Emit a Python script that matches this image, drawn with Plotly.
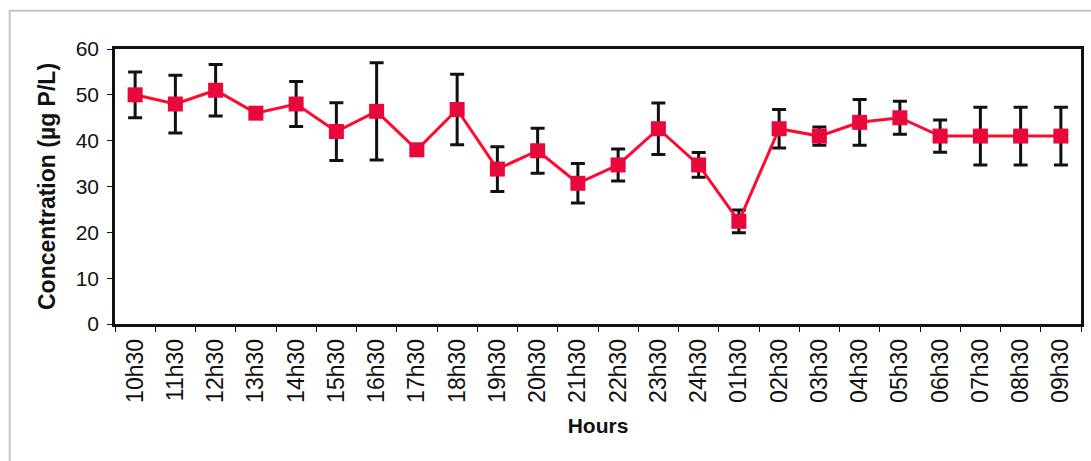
import plotly.graph_objects as go

hours = ["10h30", "11h30", "12h30", "13h30", "14h30", "15h30", "16h30", "17h30",
         "18h30", "19h30", "20h30", "21h30", "22h30", "23h30", "24h30", "01h30",
         "02h30", "03h30", "04h30", "05h30", "06h30", "07h30", "08h30", "09h30"]
concentration = [50.0, 48.0, 51.0, 46.0, 48.0, 42.0, 46.4, 38.0,
                 46.8, 33.8, 37.8, 30.7, 34.7, 42.6, 34.7, 22.4,
                 42.6, 41.0, 44.0, 45.0, 41.0, 41.0, 41.0, 41.0]
std_dev = [5.0, 6.3, 5.6, 0.5, 4.9, 6.3, 10.6, 0.5,
           7.7, 4.9, 4.9, 4.3, 3.5, 5.6, 2.7, 2.5,
           4.2, 2.0, 5.0, 3.6, 3.5, 6.3, 6.3, 6.3]

font_family = "Arial, Liberation Sans, sans-serif"

fig = go.Figure()
fig.add_trace(go.Scatter(
    x=hours,
    y=concentration,
    mode="lines+markers",
    line=dict(color="#ff0a2e", width=3),
    marker=dict(symbol="square", size=15, color="#e8083c",
                line=dict(width=0)),
    error_y=dict(type="data", array=std_dev, visible=True,
                 color="#111111", thickness=3, width=7),
    showlegend=False,
))

fig.update_layout(
    width=1091,
    height=461,
    margin=dict(l=115, r=7, t=49, b=137),
    paper_bgcolor="white",
    plot_bgcolor="white",
    font=dict(family=font_family, color="#111111"),
    shapes=[dict(type="rect", xref="paper", yref="paper",
                 x0=-0.109, x1=1.03, y0=-0.6, y1=1.139,
                 line=dict(color="#c4c4c4", width=2), layer="below")],
)

fig.update_xaxes(
    type="category",
    range=[-0.5, len(hours) - 0.5],
    tickson="boundaries",
    ticks="outside",
    ticklen=5,
    tickwidth=1,
    tickcolor="#111111",
    tickangle=-90,
    ticklabelstandoff=3,
    tickfont=dict(size=23, family=font_family, color="#111111"),
    showline=True,
    linecolor="#111111",
    linewidth=2.5,
    mirror=True,
    showgrid=False,
    title=dict(text="<b>Hours</b>", font=dict(size=21, family=font_family),
               standoff=17),
)

fig.update_yaxes(
    range=[0, 60],
    dtick=10,
    ticks="outside",
    ticklen=5,
    tickwidth=1,
    tickcolor="#111111",
    ticklabelstandoff=4,
    tickfont=dict(size=21, family=font_family, color="#111111"),
    showline=True,
    linecolor="#111111",
    linewidth=2.5,
    mirror=True,
    showgrid=False,
    zeroline=False,
    title=dict(text="<b>Concentration (µg P/L)</b>",
               font=dict(size=23, family=font_family), standoff=14),
)

fig.write_html("out.html")
